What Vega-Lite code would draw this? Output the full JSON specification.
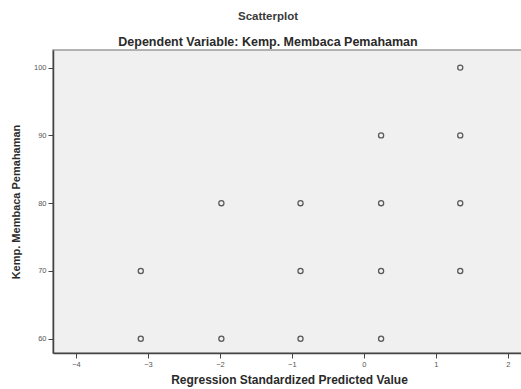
{
  "$schema": "https://vega.github.io/schema/vega-lite/v6.json",
  "autosize": {"type": "none"},
  "padding": {"left": 53, "top": 50, "right": 0, "bottom": 36},
  "width": 472,
  "height": 303,
  "background": "white",
  "title": {
    "text": "Scatterplot",
    "subtitle": "Dependent Variable: Kemp. Membaca Pemahaman",
    "anchor": "middle",
    "dx": -21,
    "offset": 2,
    "font": "Liberation Sans",
    "fontSize": 11.5,
    "fontWeight": "bold",
    "color": "#3a3a3a",
    "subtitleFont": "Liberation Sans",
    "subtitleFontSize": 12.5,
    "subtitleFontWeight": "bold",
    "subtitleColor": "#2a2a2a",
    "subtitlePadding": 13
  },
  "config": {
    "view": {"fill": "#f0f0f0", "stroke": "#9a9a9a", "strokeWidth": 1.5},
    "axis": {
      "grid": false,
      "domainColor": "#444",
      "domainWidth": 1.5,
      "tickColor": "#444",
      "tickSize": 5,
      "labelColor": "#555",
      "labelFont": "Liberation Sans",
      "labelFontSize": 7.5,
      "titleFont": "Liberation Sans",
      "titleFontWeight": "bold",
      "titleColor": "#2a2a2a"
    }
  },
  "data": {
    "values": [
      {"pred": 1.34, "score": 100},
      {"pred": 0.24, "score": 90},
      {"pred": 1.34, "score": 90},
      {"pred": -1.98, "score": 80},
      {"pred": -0.88, "score": 80},
      {"pred": 0.24, "score": 80},
      {"pred": 1.34, "score": 80},
      {"pred": -3.1, "score": 70},
      {"pred": -0.88, "score": 70},
      {"pred": 0.24, "score": 70},
      {"pred": 1.34, "score": 70},
      {"pred": -3.1, "score": 60},
      {"pred": -1.98, "score": 60},
      {"pred": -0.88, "score": 60},
      {"pred": 0.24, "score": 60}
    ]
  },
  "mark": {"type": "point", "shape": "circle", "filled": false, "size": 26, "stroke": "#5a5a5a", "strokeWidth": 1.3, "opacity": 1},
  "encoding": {
    "x": {
      "field": "pred",
      "type": "quantitative",
      "scale": {"domain": [-4.32, 2.24], "nice": false, "zero": false},
      "axis": {"values": [-4, -3, -2, -1, 0, 1, 2], "title": "Regression Standardized Predicted Value", "titleFontSize": 12, "titlePadding": 7}
    },
    "y": {
      "field": "score",
      "type": "quantitative",
      "scale": {"domain": [57.9, 102.6], "nice": false, "zero": false},
      "axis": {"values": [60, 70, 80, 90, 100], "title": "Kemp. Membaca Pemahaman", "titleFontSize": 11, "titlePadding": 12}
    }
  }
}
